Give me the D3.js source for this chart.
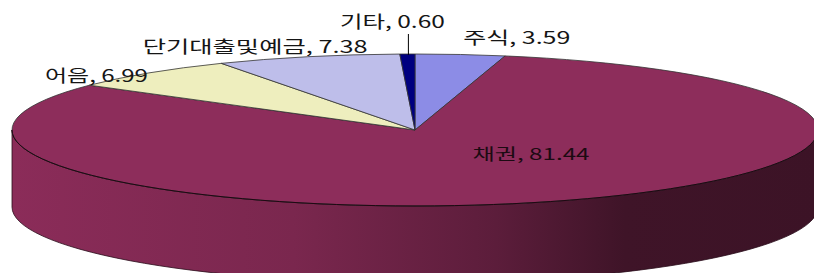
<!DOCTYPE html>
<html>
<head>
<meta charset="utf-8">
<script src="https://cdn.jsdelivr.net/npm/d3@7"></script>
<style>
  html, body { margin: 0; padding: 0; background: #fff; }
  svg { display: block; }
</style>
</head>
<body>
<div id="chart"></div>
<script>
// data (clockwise from 12 o'clock)
const categories = ["주식", "채권", "어음", "단기대출및예금", "기타"];
const values = [3.59, 81.44, 6.99, 7.38, 0.60];
const colors = ["#8c8ce6", "#8d2d5b", "#eeeebe", "#bebeea", "#000080"];

const width = 814;
const height = 273;

// ellipse geometry of the 3D disc
const cx = 415, cy = 130, rx = 403, ry = 76, depth = 77;

// label layout, relative to the outer mid point of each slice
const labelLayout = [
    { anchor: "start",  dx: 3,   dy: -10, len: 107, size: 17 },  // 주식
    { anchor: "middle", dx: -25, dy: -41, len: 117, size: 16 },  // 채권
    { anchor: "end",    dx: -1,  dy: 9,   len: 103, size: 17 },  // 어음
    { anchor: "end",    dx: 60,  dy: -4,  len: 225, size: 17 },  // 단기대출및예금
    { anchor: "middle", dx: -15, dy: -26, len: 105, size: 17 }   // 기타
];

const svg = d3.select("#chart")
    .append("svg")
    .attr("width", width)
    .attr("height", height)
    .style("font-family", "'Noto Sans CJK KR', 'Noto Sans', sans-serif");

const pie = d3.pie().sort(null).value(d => d.value);
const slices = pie(categories.map((c, i) => ({ name: c, value: values[i], color: colors[i] })));

// angle (clockwise from top) -> point on the ellipse
const pt = (a, off = 0) => [cx + rx * Math.sin(a), cy - ry * Math.cos(a) + off];

// side gradient (lighter on the left, dark on the right)
const defs = svg.append("defs");
const grad = defs.append("linearGradient")
    .attr("id", "sideGrad")
    .attr("gradientUnits", "userSpaceOnUse")
    .attr("x1", cx - rx).attr("y1", 0)
    .attr("x2", cx + rx).attr("y2", 0);
[[0, 1.0], [0.35, 0.88], [0.6, 0.66], [0.76, 0.45], [1, 0.43]].forEach(([o, k]) => {
    grad.append("stop").attr("offset", o).attr("stop-color", "#8b2c59")
        .attr("data-k", k);
});
grad.selectAll("stop").attr("stop-color", function () {
    const k = +this.getAttribute("data-k");
    const c = d3.rgb("#8b2c59");
    return d3.rgb(c.r * k, c.g * k, c.b * k).formatHex();
});

// -- side walls (front half only: PI/2 .. 3PI/2)
const sideGroup = svg.append("g");
slices.forEach(d => {
    const a0 = Math.max(d.startAngle, Math.PI / 2);
    const a1 = Math.min(d.endAngle, 3 * Math.PI / 2);
    if (a1 <= a0) return;
    const [x0, y0] = pt(a0), [x1, y1] = pt(a1);
    const [bx1, by1] = pt(a1, depth), [bx0, by0] = pt(a0, depth);
    sideGroup.append("path")
        .attr("d", `M${x0},${y0}A${rx},${ry} 0 0 1 ${x1},${y1}L${bx1},${by1}A${rx},${ry} 0 0 0 ${bx0},${by0}Z`)
        .attr("fill", d.data.name === "채권" ? "url(#sideGrad)" : d3.color(d.data.color).darker(1))
        .attr("stroke", "#2a0c1a")
        .attr("stroke-width", 0.8);
});

// -- top faces
const topGroup = svg.append("g");
topGroup.selectAll("path")
    .data(slices)
    .join("path")
    .attr("d", d => {
        const [x0, y0] = pt(d.startAngle), [x1, y1] = pt(d.endAngle);
        const large = d.endAngle - d.startAngle > Math.PI ? 1 : 0;
        return `M${cx},${cy}L${x0},${y0}A${rx},${ry} 0 ${large} 1 ${x1},${y1}Z`;
    })
    .attr("fill", d => d.data.color)
    .attr("stroke", "#333")
    .attr("stroke-width", 0.8)
    .attr("stroke-linejoin", "round");

// dark rim between top and side
const [lx, ly] = pt(3 * Math.PI / 2), [rxp, ryp] = pt(Math.PI / 2);
svg.append("path")
    .attr("d", `M${rxp},${ryp}A${rx},${ry} 0 0 1 ${lx},${ly}`)
    .attr("fill", "none")
    .attr("stroke", "#1e0812")
    .attr("stroke-width", 1);

// -- labels
const labelGroup = svg.append("g");
slices.forEach((d, i) => {
    const L = labelLayout[i];
    const mid = (d.startAngle + d.endAngle) / 2;
    const [mx, my] = pt(mid);
    labelGroup.append("text")
        .attr("x", mx + L.dx)
        .attr("y", my + L.dy)
        .attr("text-anchor", L.anchor)
        .attr("textLength", L.len)
        .attr("lengthAdjust", "spacingAndGlyphs")
        .style("font-size", L.size + "px")
        .style("fill", i === 1 ? "#1c0a12" : "#151515")
        .text(`${d.data.name}, ${d3.format(".2f")(d.data.value)}`);

    // leader line for the thin slice
    if (d.data.value < 1) {
        labelGroup.append("line")
            .attr("x1", mx + 1).attr("y1", my + L.dy + 6)
            .attr("x2", mx + 1).attr("y2", my + 1)
            .attr("stroke", "#000")
            .attr("stroke-width", 1);
    }
});
</script>
</body>
</html>
